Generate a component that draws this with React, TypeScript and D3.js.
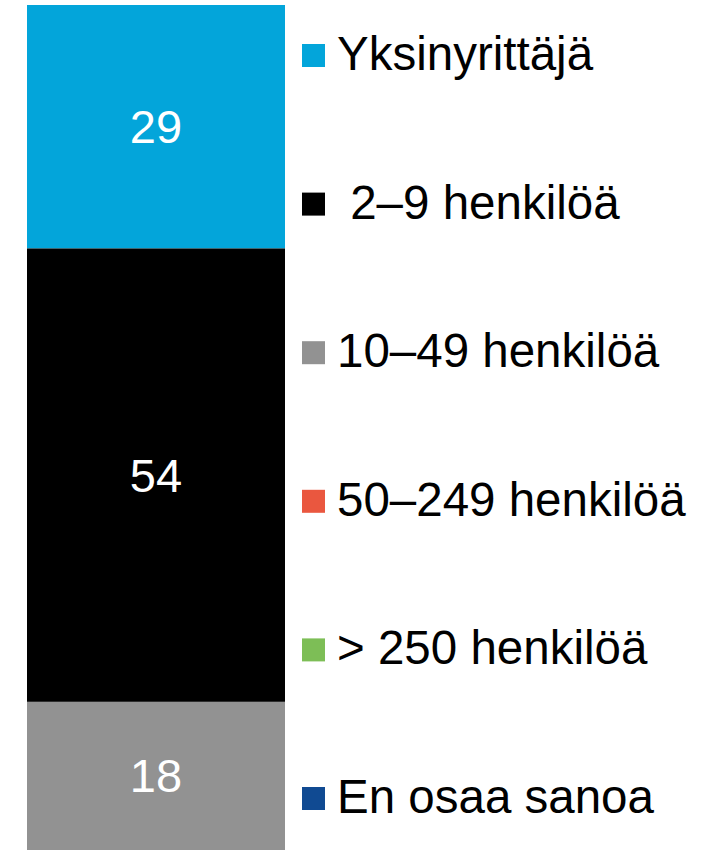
import * as d3 from "d3";

const categories = [
	"Yksinyrittäjä",
	" 2–9 henkilöä",
	"10–49 henkilöä",
	"50–249 henkilöä",
	"> 250 henkilöä",
	"En osaa sanoa",
];
const values = [29, 54, 18, 0, 0, 0];
const colors = ["#03A5DA", "#000000", "#929292", "#EA573F", "#7DBE56", "#104A92"];

const width = 708;
const height = 850;
const font = "'Liberation Sans', Arial, sans-serif";

function App() {
	const total = d3.sum(values);
	// bar runs a few px past the bottom edge in the original
	const y = d3.scaleLinear().domain([0, total]).range([5, 853]);
	const x0 = 27;
	const x1 = 285;

	const stack = values.map((v, i) => {
		const start = d3.sum(values.slice(0, i));
		return { value: v, y0: y(start), y1: y(start + v), color: colors[i] };
	});

	const legendY = d3
		.scalePoint<string>()
		.domain(categories)
		.range([56, 799]);

	return (
		<svg
			width={width}
			height={height}
			style={{ position: "absolute", left: 0, top: 0, background: "#fff" }}
			fontFamily={font}
		>
			<g>
				{stack.map((s, i) =>
					s.value > 0 ? (
						<g key={i}>
							<rect
								x={x0}
								y={s.y0}
								width={x1 - x0}
								height={s.y1 - s.y0}
								fill={s.color}
							/>
							<text
								x={(x0 + x1) / 2}
								y={(Math.min(s.y0, 850) + Math.min(s.y1, 850)) / 2}
								dy="0.35em"
								textAnchor="middle"
								fill="#fff"
								fontSize={47}
							>
								{s.value}
							</text>
						</g>
					) : null
				)}
			</g>
			<g>
				{categories.map((c, i) => {
					const cy = legendY(c) as number;
					return (
						<g key={c}>
							<rect x={302} y={cy - 12} width={23} height={23} fill={colors[i]} />
							<text
								x={337}
								y={cy + 14}
								fontSize={47.5}
								fill="#000"
								style={{ whiteSpace: "pre" }}
							>
								{c}
							</text>
						</g>
					);
				})}
			</g>
		</svg>
	);
}

export default App;
